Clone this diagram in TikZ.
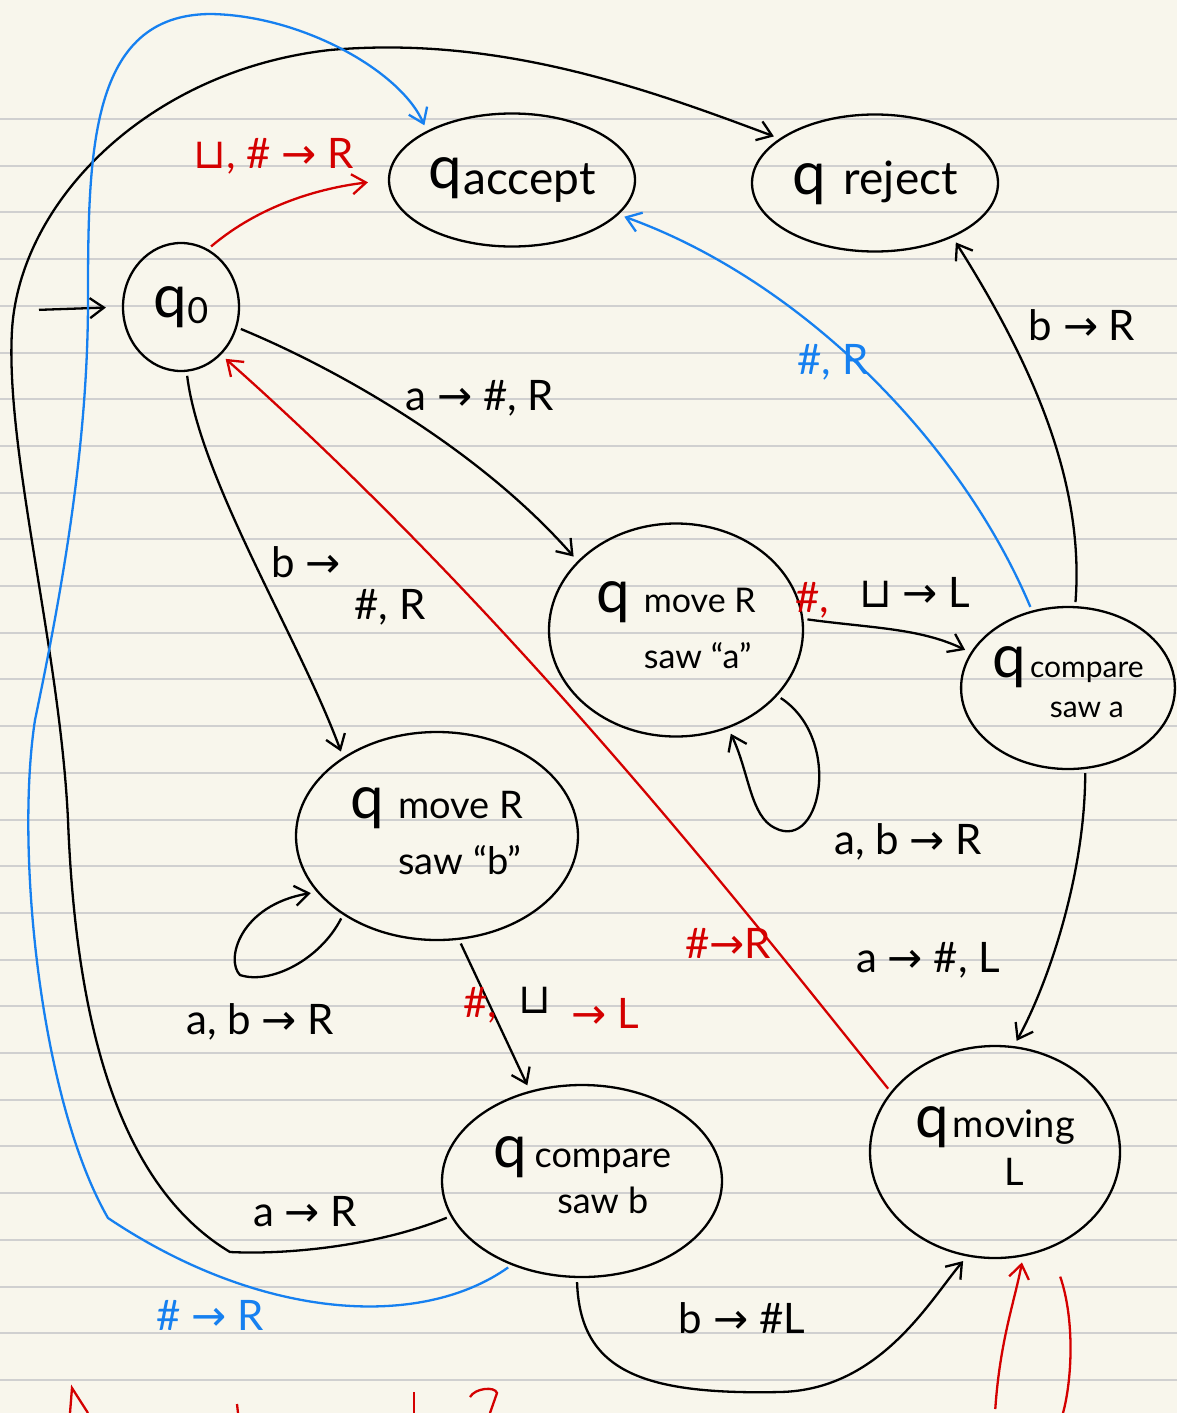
\documentclass[tikz,border=0pt]{standalone}
\usepackage{fontspec}
\setmainfont{Lato}
\newfontfamily\symf{DejaVu Sans}
\usetikzlibrary{arrows.meta,shapes.geometric}
\definecolor{paper}{RGB}{248,246,236}
\definecolor{rulegray}{RGB}{208,208,208}
\definecolor{inkred}{RGB}{212,0,0}
\definecolor{inkblue}{RGB}{22,128,240}
\newcommand\qq{{\fontsize{60}{60}\selectfont q}}
\newcommand\myto{{\symf\char"2192}}
\newcommand\myblank{{\symf\char"2294}}
\tikzset{
  st/.style={draw, ellipse, line width=2.3pt, inner sep=0pt},
  tr/.style={line width=2.3pt, -{Straight Barb[length=14pt,width=20pt,line width=2.3pt]}, shorten >=6pt, shorten <=4pt},
  plain/.style={line width=2.3pt},
  lbl/.style={font=\fontsize{42}{46}\selectfont, inner sep=0pt},
  rulestyle/.style={draw=rulegray, line width=2pt},
}
\begin{document}
\begin{tikzpicture}[x=1pt,y=-1pt]
\useasboundingbox (0,0) rectangle (1177,1413);
\fill[paper] (0,0) rectangle (1177,1413);
\foreach \i in {0,...,27} \draw[rulestyle] (0,119+46.7*\i) -- (1177,119+46.7*\i);

% states
\node[st, minimum width=116pt, minimum height=128pt] (q0) at (181,307) {\qq\raisebox{-6pt}{\fontsize{36}{36}\selectfont 0}};
\node[st, minimum width=246pt, minimum height=133pt] (acc) at (512,180) {\qq\,\raisebox{-6pt}{\fontsize{46}{46}\selectfont accept}};
\node[st, minimum width=246pt, minimum height=137pt] (rej) at (875,183) {\qq\hspace{18pt}{\fontsize{46}{46}\selectfont reject}};
\node[st, minimum width=254pt, minimum height=213pt] (ma) at (676,630) {\qq\hspace{14pt}{\fontsize{34}{50}\selectfont\begin{tabular}[t]{@{}l@{}}move R\\[6pt]saw ``a''\end{tabular}}};
\node[st, minimum width=196pt, minimum height=162pt] (ca) at (1068,688) {\qq\hspace{4pt}{\fontsize{30}{40}\selectfont\begin{tabular}[t]{@{}c@{}}compare\\saw a\end{tabular}}};
\node[st, minimum width=282pt, minimum height=208pt] (mb) at (437,836) {\qq\hspace{14pt}{\fontsize{38}{52}\selectfont\begin{tabular}[t]{@{}l@{}}move R\\[4pt]saw ``b''\end{tabular}}};
\node[st, minimum width=280pt, minimum height=192pt] (cb) at (582,1181) {\qq\hspace{8pt}{\fontsize{36}{46}\selectfont\begin{tabular}[t]{@{}c@{}}compare\\saw b\end{tabular}}};
\node[st, minimum width=250pt, minimum height=212pt] (mL) at (995,1152) {\qq\hspace{4pt}{\fontsize{38}{48}\selectfont\begin{tabular}[t]{@{}c@{}}moving\\L\end{tabular}}};

% start arrow
\coordinate (start) at (35,310);
\draw[tr, shorten >=16pt] (start) -- (q0.west);

% q0 -> accept (red)
\draw[tr, inkred, shorten >=20pt] (q0.65) .. controls (260,205) and (320,188) .. (acc.west);
\node[lbl, inkred] (l1) at (274,156) {\myblank, \# \myto{} R};

% q0 -> move a
\draw[tr] (q0.-20) .. controls (340,370) and (480,450) .. (ma.145);
\node[lbl] (l2) at (480,398) {a \myto{} \#, R};

% q0 -> move b
\draw[tr] (q0.-85) .. controls (200,480) and (300,640) .. (mb.140);
\node[lbl] (l3a) at (306,562) {b \myto};
\node[lbl] (l3b) at (390,607) {\#, R};

% move a self loop
\draw[tr] (ma.-33) .. controls (845,740) and (820,860) .. (770,825) .. controls (750,810) and (748,770) .. (ma.-62);
\node[lbl] (l4) at (908,842) {a, b \myto{} R};

% move a -> compare a
\draw[tr] (ma.5) .. controls (870,628) and (920,628) .. (ca.160);
\node[lbl, inkred] (l5a) at (812,600) {\#,};
\node[lbl] (l5b) at (915,592) {\myblank{} \myto{} L};

% compare a -> reject
\draw[tr] (ca.85) .. controls (1085,480) and (1030,360) .. (rej.-35);
\node[lbl] (l6) at (1082,325) {b \myto{} R};

% compare a -> accept (blue)
\draw[tr, inkblue] (ca.115) .. controls (960,440) and (800,280) .. (acc.-18);
\node[lbl, inkblue] (l7) at (833,362) {\#, R};

% compare a -> moving L
\draw[tr] (ca.-78) .. controls (1085,880) and (1045,990) .. (mL.80);
\node[lbl] (l8) at (928,960) {a \myto{} \#, L};

% move b self loop
\draw[tr] (mb.-140) .. controls (320,960) and (270,985) .. (240,975) .. controls (225,960) and (240,905) .. (mb.-155);
\node[lbl] (l9) at (260,1022) {a, b \myto{} R};

% move b -> compare b
\draw[tr] (mb.-78) -- (cb.120);
\node[lbl, inkred] (l10a) at (480,1005) {\#,};
\node[lbl] (l10b) at (535,1000) {\myblank};
\node[lbl, inkred] (l10c) at (605,1013) {\myto{} L};

% compare b -> reject (big black loop)
\draw[tr] (cb.-165) .. controls (380,1245) and (290,1255) .. (230,1252)
  .. controls (110,1180) and (75,1000) .. (68,820)
  .. controls (60,650) and (5,450) .. (12,330)
  .. controls (20,200) and (150,70) .. (330,50)
  .. controls (500,35) and (650,90) .. (rej.155);
\node[lbl] (l11) at (305,1212) {a \myto{} R};

% compare b -> accept (big blue loop)
\draw[tr, inkblue] (cb.-130) .. controls (420,1330) and (260,1320) .. (108,1218)
  .. controls (40,1100) and (15,850) .. (35,720)
  .. controls (60,600) and (88,450) .. (88,300)
  .. controls (88,150) and (90,15) .. (210,14)
  .. controls (300,15) and (400,70) .. (acc.150);
\node[lbl, inkblue] (l12) at (210,1315) {\# \myto{} R};

% compare b -> moving L
\draw[tr] (cb.-93) .. controls (580,1370) and (640,1395) .. (780,1392) .. controls (880,1390) and (930,1300) .. (mL.-105);
\node[lbl] (l13) at (742,1318) {b \myto{} \#L};

% moving L -> q0 (red)
\draw[tr, inkred] (mL.150) .. controls (760,930) and (520,620) .. (q0.-50);
\node[lbl, inkred] (l14) at (728,943) {\#\myto R};

% red lines at the bottom right
\coordinate (off1) at (995,1413);
\coordinate (off2) at (1063,1413);
\draw[tr, inkred] (off1) .. controls (1000,1340) and (1015,1300) .. (mL.-75);
\draw[plain, inkred, shorten <=30pt] (mL.-60) .. controls (1075,1320) and (1072,1380) .. (off2);

% cut-off red writing at the bottom
\draw[plain, inkred] (70,1413) -- (72,1388) -- (88,1413);
\draw[plain, inkred] (237,1404) -- (238,1413);
\draw[plain, inkred] (414,1392) -- (414,1413);
\draw[plain, inkred] (470,1397) .. controls (475,1388) and (495,1386) .. (497,1393) -- (490,1413);
\end{tikzpicture}
\end{document}
